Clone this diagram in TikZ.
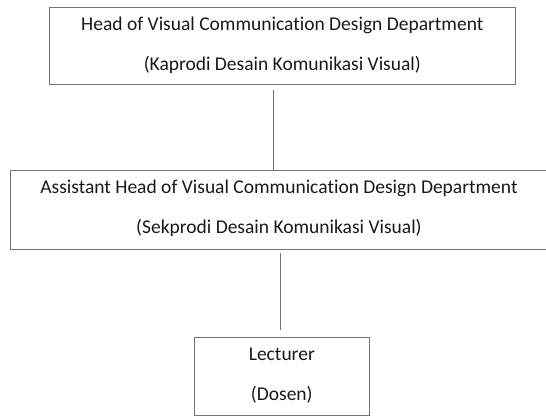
\documentclass[tikz,border=0pt]{standalone}
\usepackage{fontspec}
\setmainfont[Ligatures=NoCommon]{Carlito}
\usepackage{tikz}
\usetikzlibrary{positioning}

\begin{document}
\begin{tikzpicture}[x=1pt, y=1pt,
    every node/.style={rectangle, draw=black!55, line width=1pt, align=center, inner sep=0pt,
        font=\fontsize{19.5}{40}\selectfont, text=black!90,
        execute at begin node=\rule{0pt}{17.5pt}, execute at end node=\rule[-5pt]{0pt}{5pt}}]
    \useasboundingbox (0,0) rectangle (546,-416);
    \node[minimum width=465.3pt, minimum height=77pt] (kaprodi) at (282.35,-45.8) {Head of Visual Communication Design Department\\(Kaprodi Desain Komunikasi Visual)};
    \node[minimum width=538pt, minimum height=79pt] (sekprodi) at (279,-209.5) {Assistant Head of Visual Communication Design Department\\(Sekprodi Desain Komunikasi Visual)};
    \node[minimum width=175pt, minimum height=77.3pt] (dosen) at (281.8,-376.35) {Lecturer\\(Dosen)};
    \draw[black!55, line width=1pt, shorten <=5pt] ([xshift=-8.65pt]kaprodi.south) -- ([xshift=-8.65pt]kaprodi.south |- sekprodi.north);
    \draw[black!55, line width=1pt, shorten <=3.7pt, shorten >=7.7pt] ([xshift=1.7pt]sekprodi.south) -- ([xshift=1.7pt]sekprodi.south |- dosen.north);
\end{tikzpicture}
\end{document}
